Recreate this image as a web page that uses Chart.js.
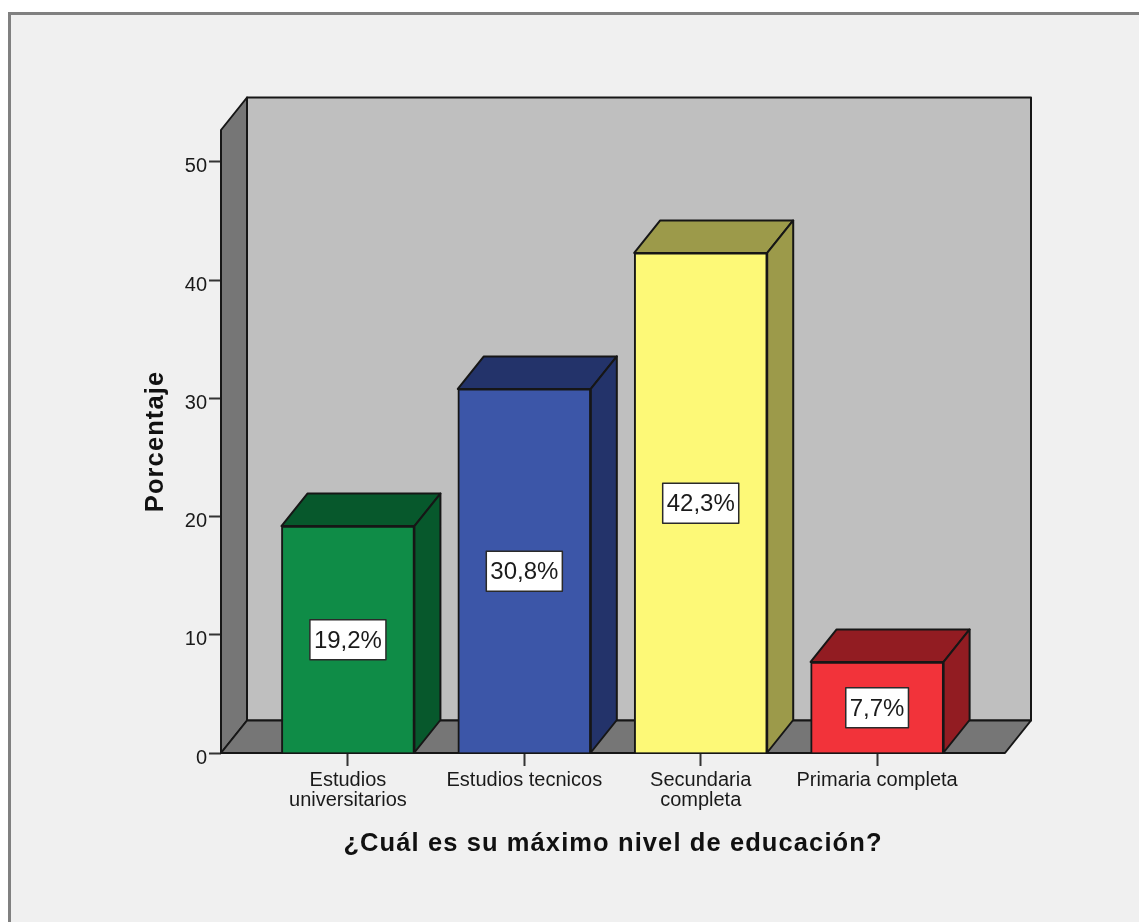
<!DOCTYPE html>
<html>
<head>
<meta charset="utf-8">
<title>Nivel de educación</title>
<script src="https://cdn.jsdelivr.net/npm/chart.js@4"></script>
<style>
  html,body{margin:0;padding:0;background:#fff;width:1139px;height:922px;overflow:hidden}
  #panel{position:absolute;left:8px;top:12px;right:0;bottom:0;background:#f0f0f0;border-top:3px solid #808080;border-left:3px solid #808080}
  canvas{position:absolute;left:0;top:0}
</style>
</head>
<body>
<div id="panel"></div>
<canvas id="chart" width="1139" height="922"></canvas>
<script>
const categories = [['Estudios','universitarios'],'Estudios tecnicos',['Secundaria','completa'],'Primaria completa'];
const percentages = [19.2,30.8,42.3,7.7];
const yTicks = [0,10,20,30,40,50];
const xTitle = '¿Cuál es su máximo nivel de educación?';
const yTitle = 'Porcentaje';

const frontColors = ['#0f8c47','#3c56a8','#fdf977','#f2333a'];
const darkColors = ['#07582c','#23336a','#9c9a4a','#921c22'];
const depthX = 26, depthY = 32.5;
const lineColor = '#161616';
const fontFamily = '"Liberation Sans", Arial, sans-serif';

function poly(ctx, pts, fill){
  ctx.beginPath();
  pts.forEach((p,i)=> i ? ctx.lineTo(p[0],p[1]) : ctx.moveTo(p[0],p[1]));
  ctx.closePath();
  ctx.fillStyle = fill;
  ctx.fill();
  ctx.lineWidth = 2;
  ctx.lineJoin = 'round';
  ctx.strokeStyle = lineColor;
  ctx.stroke();
}

// axis titles are letter-spaced in the original
const spacedTitles = {
  id:'spacedTitles',
  beforeDraw(chart){
    Object.values(chart.scales).forEach(s=>{
      if(s._spaced) return;
      const orig = s.drawTitle;
      s.drawTitle = function(){
        chart.ctx.letterSpacing = '1.1px';
        orig.call(this);
        chart.ctx.letterSpacing = '0px';
      };
      s._spaced = true;
    });
  }
};

// back wall, left wall and floor of the box
const walls = {
  id:'walls',
  beforeDatasetsDraw(chart){
    const {ctx, chartArea:a} = chart;
    ctx.save();
    poly(ctx, [[a.left+depthX,a.top-depthY],[a.right+depthX,a.top-depthY],[a.right+depthX,a.bottom-depthY],[a.left+depthX,a.bottom-depthY]], '#bfbfbf');
    poly(ctx, [[a.left,a.top],[a.left+depthX,a.top-depthY],[a.left+depthX,a.bottom-depthY],[a.left,a.bottom]], '#767676');
    poly(ctx, [[a.left,a.bottom],[a.left+depthX,a.bottom-depthY],[a.right+depthX,a.bottom-depthY],[a.right,a.bottom]], '#767676');
    ctx.restore();
  }
};

// top and side faces of each bar, then the value boxes
const bars3d = {
  id:'bars3d',
  afterDatasetsDraw(chart){
    const {ctx} = chart;
    ctx.save();
    chart.getDatasetMeta(0).data.forEach((bar,i)=>{
      const l = bar.x-bar.width/2, r = bar.x+bar.width/2, t = bar.y, b = bar.base;
      poly(ctx, [[l,t],[l+depthX,t-depthY],[r+depthX,t-depthY],[r,t]], darkColors[i]);
      poly(ctx, [[r,t],[r+depthX,t-depthY],[r+depthX,b-depthY],[r,b]], darkColors[i]);
    });
    ctx.font = '24px '+fontFamily;
    ctx.textAlign = 'center';
    ctx.textBaseline = 'middle';
    chart.getDatasetMeta(0).data.forEach((bar,i)=>{
      const txt = percentages[i].toFixed(1).replace('.',',')+'%';
      const w = ctx.measureText(txt).width+8, h = 40;
      const cy = (bar.y+bar.base)/2+0.5;
      ctx.fillStyle = '#fff';
      ctx.fillRect(bar.x-w/2, cy-h/2, w, h);
      ctx.lineWidth = 1.5;
      ctx.strokeStyle = '#2a2a2a';
      ctx.strokeRect(bar.x-w/2, cy-h/2, w, h);
      ctx.fillStyle = '#1a1a1a';
      ctx.fillText(txt, bar.x, cy+1.5);
    });
    ctx.restore();
  }
};

new Chart(document.getElementById('chart'), {
  type:'bar',
  data:{datasets:[{
    data:percentages.map((v,i)=>({x:i,y:v})),
    backgroundColor:frontColors,
    borderColor:lineColor,
    borderWidth:2,
    barThickness:133
  }]},
  plugins:[spacedTitles,walls,bars3d],
  options:{
    responsive:false,
    animation:false,
    events:[],
    layout:{padding:{left:0,right:134,top:130,bottom:0}},
    plugins:{legend:{display:false},tooltip:{enabled:false}},
    scales:{
      x:{
        type:'linear',
        offset:false,
        min:-0.7195,
        max:3.725,
        afterBuildTicks(s){ s.ticks = categories.map((c,i)=>({value:i})); },
        afterFit(s){ s.height = 169; },
        grid:{offset:false,drawOnChartArea:false,tickLength:13,tickColor:'#333',tickWidth:2},
        border:{display:false},
        ticks:{
          autoSkip:false,maxRotation:0,padding:4,color:'#1a1a1a',
          font:{family:fontFamily,size:20,lineHeight:1},
          callback:(v)=>categories[v]
        },
        title:{display:true,text:xTitle,color:'#111',font:{family:fontFamily,size:25.5,weight:'bold'},padding:{top:0,bottom:63}}
      },
      y:{
        min:0,
        max:52.7,
        afterBuildTicks(s){ s.ticks = yTicks.map(v=>({value:v})); },
        afterFit(s){ s.width = 221; },
        grid:{drawOnChartArea:false,tickLength:12,tickColor:'#333',tickWidth:2},
        border:{display:false},
        ticks:{padding:2,labelOffset:5,color:'#1a1a1a',font:{family:fontFamily,size:20}},
        title:{display:true,text:yTitle,color:'#111',font:{family:fontFamily,size:25.5,weight:'bold'},padding:{top:141,bottom:0}}
      }
    }
  }
});
</script>
</body>
</html>
